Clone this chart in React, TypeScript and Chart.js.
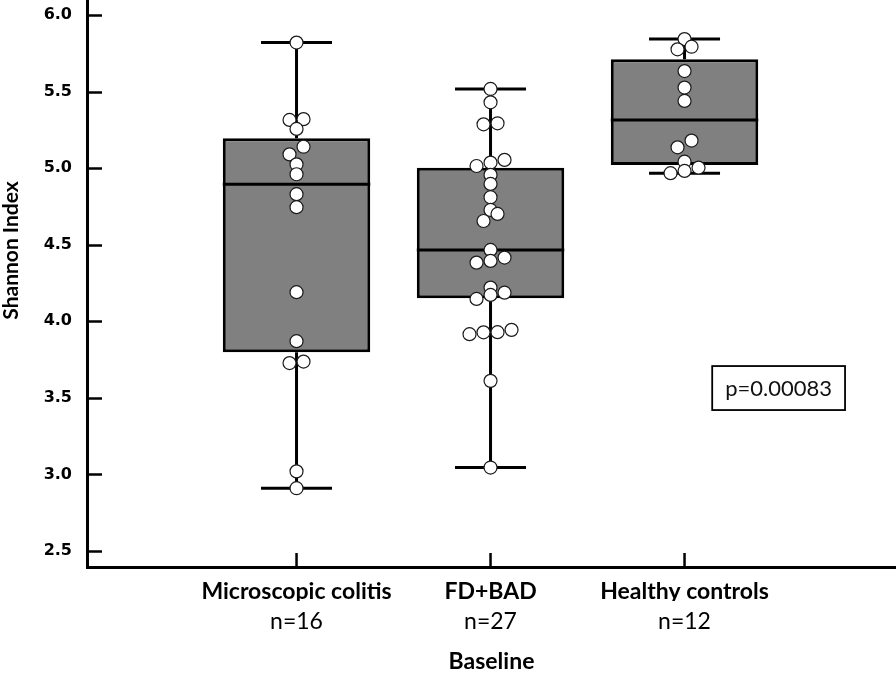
import React, { useEffect, useRef } from "react";
import { Chart, registerables } from "chart.js";

Chart.register(...registerables);

// ---------- data ----------
const categories = ["Microscopic colitis", "FD+BAD", "Healthy controls"];
const sampleLabels = ["n=16", "n=27", "n=12"];

const microscopicColitis = [
  5.82, 5.32, 5.315, 5.256, 5.14, 5.09, 5.025, 4.96, 4.83, 4.745, 4.19, 3.87,
  3.737, 3.727, 3.02, 2.91,
];
const fdBad = [
  5.517, 5.43, 5.293, 5.286, 5.054, 5.036, 5.014, 4.956, 4.897, 4.81, 4.727,
  4.701, 4.655, 4.466, 4.416, 4.394, 4.383, 4.22, 4.187, 4.172, 4.146, 3.944,
  3.929, 3.928, 3.916, 3.611, 3.045,
];
const healthyControls = [
  5.843, 5.793, 5.776, 5.634, 5.526, 5.439, 5.18, 5.136, 5.042, 5.003, 4.982,
  4.967,
];

const q1Values = [3.798, 4.151, 5.021];
const medianValues = [4.895, 4.466, 5.315];
const q3Values = [5.195, 5.003, 5.711];
const whiskerLow = [2.91, 3.045, 4.967];
const whiskerHigh = [5.82, 5.517, 5.843];

const yTickValues = [2.5, 3.0, 3.5, 4.0, 4.5, 5.0, 5.5, 6.0];
const yTitle = "Shannon Index";
const xTitle = "Baseline";
const pValueText = "p=0.00083";
const pValueAnchor = { x: 2.485, y: 3.564 };

// ---------- layout constants ----------
const Y_MIN = 2.3955;
const Y_MAX = 6.098;
const X_MIN = -1.08;
const X_MAX = 3.09;
const CAP_HALF = 0.183; // in category units
const POINT_R = 6.5;
const SWARM_STEP = 14;
const GROUP_PX = 8.5;

const groups = [microscopicColitis, fdBad, healthyControls];

function swarmOffsets(pys: number[]): number[] {
  const idx = pys.map((_, i) => i).sort((a, b) => pys[b] - pys[a]);
  const offsets = new Array(pys.length).fill(0);
  let group: number[] = [];
  let start = 0;
  const flush = () => {
    const n = group.length;
    group.forEach((k, j) => {
      offsets[k] = (j - (n - 1) / 2) * SWARM_STEP;
    });
    group = [];
  };
  idx.forEach((k) => {
    if (group.length && start - pys[k] >= GROUP_PX) flush();
    if (!group.length) start = pys[k];
    group.push(k);
  });
  flush();
  return offsets;
}

const zeroPadding = (s: any) => {
  s.paddingTop = 0;
  s.paddingBottom = 0;
  s.paddingLeft = 0;
  s.paddingRight = 0;
};

const extrasPlugin = {
  id: "boxExtras",
  afterDatasetsDraw(chart: any) {
    const { ctx, chartArea } = chart;
    const x = chart.scales.x;
    const y = chart.scales.y;
    ctx.save();

    // inward ticks
    ctx.strokeStyle = "#000";
    ctx.lineWidth = 2.5;
    yTickValues.forEach((v) => {
      const py = Math.round(y.getPixelForValue(v)) + 0.5;
      ctx.beginPath();
      ctx.moveTo(chartArea.left, py);
      ctx.lineTo(chartArea.left + 15, py);
      ctx.stroke();
    });
    categories.forEach((_, i) => {
      const px = x.getPixelForValue(i);
      ctx.beginPath();
      ctx.moveTo(px, chartArea.bottom);
      ctx.lineTo(px, chartArea.bottom - 14);
      ctx.stroke();
    });

    // whiskers, caps, medians
    ctx.lineWidth = 3;
    categories.forEach((_, i) => {
      const cx = x.getPixelForValue(i);
      const capHalf = x.getPixelForValue(i + CAP_HALF) - cx;
      const yHi = y.getPixelForValue(whiskerHigh[i]);
      const yLo = y.getPixelForValue(whiskerLow[i]);
      const yQ3 = y.getPixelForValue(q3Values[i]);
      const yQ1 = y.getPixelForValue(q1Values[i]);
      ctx.beginPath();
      ctx.moveTo(cx, yQ3);
      ctx.lineTo(cx, yHi);
      ctx.moveTo(cx, yQ1);
      ctx.lineTo(cx, yLo);
      ctx.moveTo(cx - capHalf, yHi);
      ctx.lineTo(cx + capHalf, yHi);
      ctx.moveTo(cx - capHalf, yLo);
      ctx.lineTo(cx + capHalf, yLo);
      ctx.stroke();

      const meta = chart.getDatasetMeta(0);
      const bar = meta.data[i];
      const bw = bar.width;
      const yMed = y.getPixelForValue(medianValues[i]);
      ctx.beginPath();
      ctx.moveTo(cx - bw / 2, yMed);
      ctx.lineTo(cx + bw / 2, yMed);
      ctx.stroke();
    });

    // points
    ctx.lineWidth = 1.2;
    ctx.strokeStyle = "#1a1a1a";
    ctx.fillStyle = "#ffffff";
    groups.forEach((vals, i) => {
      const cx = x.getPixelForValue(i);
      const pys = vals.map((v) => y.getPixelForValue(v));
      const offs = swarmOffsets(pys);
      pys.forEach((py, k) => {
        ctx.beginPath();
        ctx.arc(cx + offs[k], py, POINT_R, 0, Math.PI * 2);
        ctx.fill();
        ctx.stroke();
      });
    });

    // p-value box
    const pcx = x.getPixelForValue(pValueAnchor.x);
    const pcy = y.getPixelForValue(pValueAnchor.y);
    ctx.font = "22px Lato";
    ctx.textAlign = "center";
    ctx.textBaseline = "middle";
    const tw = ctx.measureText(pValueText).width;
    const bw = tw + 26;
    const bh = 44;
    ctx.lineWidth = 1.8;
    ctx.strokeStyle = "#000";
    ctx.strokeRect(pcx - bw / 2, pcy - bh / 2, bw, bh);
    ctx.fillStyle = "#111";
    ctx.fillText(pValueText, pcx, pcy + 1);

    // y title
    ctx.save();
    ctx.translate(11, (chartArea.top + chartArea.bottom) / 2 - 33);
    ctx.rotate(-Math.PI / 2);
    ctx.font = "bold 21px Lato";
    ctx.fillStyle = "#000";
    ctx.textAlign = "center";
    ctx.textBaseline = "middle";
    ctx.fillText(yTitle, 0, 0);
    ctx.restore();

    ctx.restore();
  },
};

export default function App() {
  const canvasRef = useRef<HTMLCanvasElement | null>(null);

  useEffect(() => {
    document.body.style.margin = "0";
    const canvas = canvasRef.current;
    if (!canvas) return;
    const tickIdx = (s: any) => {
      s.ticks = categories.map((_, i) => ({ value: i }));
    };
    const chart = new Chart(canvas, {
      type: "bar",
      data: {
        datasets: [
          {
            data: categories.map((_, i) => ({ x: i, y: [q1Values[i], q3Values[i]] })) as any,
            backgroundColor: "#808080",
            borderColor: "#000000",
            borderWidth: 3,
            borderSkipped: false,
            barPercentage: 0.76,
            categoryPercentage: 1,
            xAxisID: "x",
            yAxisID: "y",
          } as any,
        ],
      },
      options: {
        responsive: false,
        devicePixelRatio: 1,
        animation: false,
        events: [],
        layout: { padding: 0, autoPadding: false },
        plugins: { legend: { display: false }, tooltip: { enabled: false } },
        scales: {
          x: {
            type: "linear",
            position: "bottom",
            offset: false,
            min: X_MIN,
            max: X_MAX,
            weight: 0,
            afterBuildTicks: tickIdx,
            afterFit: (s: any) => {
              s.height = 34;
              zeroPadding(s);
            },
            grid: { display: false, drawTicks: false, offset: false },
            border: { display: true, color: "#000", width: 3 },
            ticks: {
              padding: 11,
              autoSkip: false,
              maxRotation: 0,
              color: "#000",
              font: { family: "Lato", weight: "bold", size: 23 },
              callback: (_v: any, i: number) => categories[i],
            },
          },
          x2: {
            type: "linear",
            position: "bottom",
            offset: false,
            min: X_MIN,
            max: X_MAX,
            weight: 1,
            afterBuildTicks: tickIdx,
            afterFit: (s: any) => {
              s.height = 74;
              zeroPadding(s);
            },
            grid: { display: false, drawTicks: false },
            border: { display: false },
            ticks: {
              padding: 7,
              autoSkip: false,
              maxRotation: 0,
              color: "#000",
              font: { family: "Lato", size: 23 },
              callback: (_v: any, i: number) => sampleLabels[i],
            },
            title: {
              display: true,
              text: xTitle,
              color: "#000",
              font: { family: "Lato", weight: "bold", size: 23 },
              padding: { top: 0, bottom: 0 },
            },
          },
          y: {
            type: "linear",
            position: "left",
            min: Y_MIN,
            max: Y_MAX,
            afterBuildTicks: (s: any) => {
              s.ticks = yTickValues.map((v) => ({ value: v }));
            },
            afterFit: (s: any) => {
              s.width = 87;
              zeroPadding(s);
            },
            grid: { display: false, drawTicks: false },
            border: { display: true, color: "#000", width: 3 },
            ticks: {
              padding: 15,
              color: "#000",
              font: { family: "DejaVu Sans", weight: "bold", size: 16 },
              callback: (v: any) => Number(v).toFixed(1),
            },
          },
        } as any,
      },
      plugins: [extrasPlugin],
    });
    return () => chart.destroy();
  }, []);

  return (
    <canvas
      ref={canvasRef}
      width={896}
      height={675}
      style={{ display: "block", width: 896, height: 675 }}
    />
  );
}
